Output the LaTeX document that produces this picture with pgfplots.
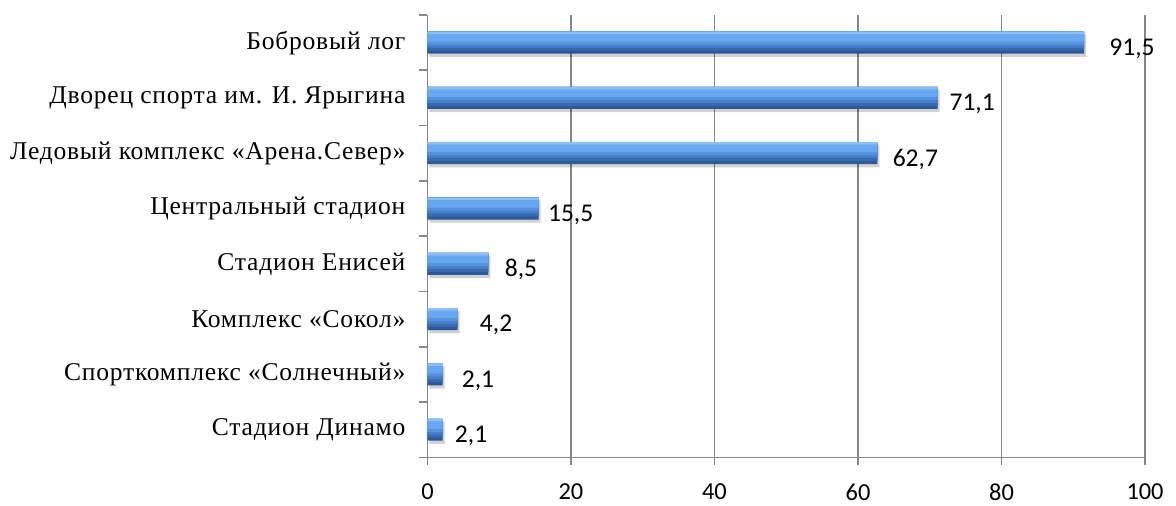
\documentclass[border=0pt]{standalone}
\usepackage{fontspec}
\setmainfont[LetterSpace=3]{Liberation Serif}
\newfontfamily\carlito{Carlito}
\usepackage{pgfplots}
\usepackage{pgfplotstable}
\pgfplotsset{compat=1.18}
\usetikzlibrary{shadows}
\definecolor{gridgray}{HTML}{878787}
\definecolor{bA}{HTML}{2B5897}
\definecolor{bB}{HTML}{386AB0}
\definecolor{bC}{HTML}{467FCA}
\definecolor{bD}{HTML}{5693DE}
\definecolor{bE}{HTML}{68A8F0}
\definecolor{bF}{HTML}{8CBFF4}

\pgfplotstableread{
y x dx
7 91.5 12.5
6 71.1 5.75
5 62.7 7.5
4 15.5 4.5
3 8.5 8
2 4.2 11
1 2.1 9.5
0 2.1 6
}\datatable

\begin{document}
\begin{tikzpicture}
\useasboundingbox (-214pt,-24pt) rectangle (374.75pt,229pt);
\begin{axis}[
  scale only axis,
  width=359.25pt, height=221.5pt,
  xmin=0, xmax=100,
  ymin=-0.5, ymax=7.5,
  xtick={0,20,40,60,80,100},
  ytick={0,1,2,3,4,5,6,7},
  yticklabels={Стадион  Динамо, Спорткомплекс «Солнечный», Комплекс «Сокол», Стадион  Енисей, Центральный  стадион, Ледовый комплекс «Арена.Север», Дворец спорта им. И. Ярыгина, Бобровый лог},
  minor ytick={-0.5,0.5,1.5,2.5,3.5,4.5,5.5,6.5,7.5},
  axis lines*=left,
  axis line style={gridgray, line width=0.8pt},
  xmajorgrids,
  grid style={gridgray, line width=0.8pt},
  tick align=outside,
  major tick length=4pt,
  minor tick length=4pt,
  tick style={gridgray, line width=0.8pt},
  major y tick style={draw=none},
  /pgf/number format/assume math mode=true,
  xticklabel style={font=\carlito\fontsize{12.2}{14}\selectfont, inner sep=0pt, yshift=-9pt},
  yticklabel style={font=\fontsize{12.8}{14}\selectfont, xshift=-3.5pt},
  clip=false,
]
\addplot[xbar, bar width=11pt, bar shift=0pt, draw=none, fill=bA,
  drop shadow={shadow xshift=1pt, shadow yshift=-1.6pt, opacity=0.18, fill=black}]
  table[x=x, y=y] {\datatable};
\addplot[xbar, bar width=9.5pt, bar shift=0.75pt, draw=none, fill=bB] table[x=x, y=y] {\datatable};
\addplot[xbar, bar width=8pt, bar shift=1.5pt, draw=none, fill=bC] table[x=x, y=y] {\datatable};
\addplot[xbar, bar width=6.5pt, bar shift=2.25pt, draw=none, fill=bD] table[x=x, y=y] {\datatable};
\addplot[xbar, bar width=5pt, bar shift=3pt, draw=none, fill=bE] table[x=x, y=y] {\datatable};
\addplot[xbar, bar width=1.2pt, bar shift=4.9pt, draw=none, fill=bF] table[x=x, y=y] {\datatable};
\addplot[xbar, bar width=11pt, bar shift=0pt, draw=none, fill=none,
  point meta=x,
  visualization depends on={\thisrow{dx} \as \dx},
  nodes near coords={\pgfmathprintnumber[fixed,fixed zerofill,precision=1,use comma,assume math mode=true]{\pgfplotspointmeta}},
  every node near coord/.append style={font=\carlito\fontsize{12.8}{14}\selectfont, anchor=west, inner sep=0pt, xshift=\dx pt, yshift=-3pt, text=black}]
  table[x=x, y=y] {\datatable};
\end{axis}
\end{tikzpicture}
\end{document}
